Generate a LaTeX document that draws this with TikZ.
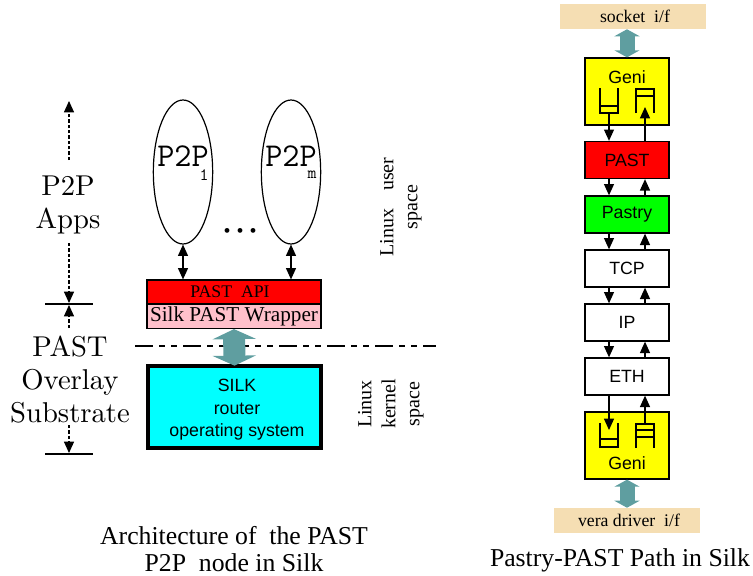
\documentclass[tikz,border=0pt]{standalone}
\usepackage{fontspec}
\usepackage{xcolor}
\usetikzlibrary{arrows.meta,shapes.geometric}
\newfontfamily\timesfam{Liberation Serif}
\newfontfamily\arialfam{Liberation Sans}
\newfontfamily\lmfam{lmroman10-regular}[Extension=.otf]
\definecolor{tealarr}{HTML}{5F9EA0}
\definecolor{wheatbox}{HTML}{F5DEB3}
\definecolor{pinkbox}{HTML}{FFC0CB}
\definecolor{silkcyan}{HTML}{00FFFF}
\definecolor{geniyellow}{HTML}{FFFF00}
\definecolor{pastred}{HTML}{FF0000}
\definecolor{pastrygreen}{HTML}{00FF00}
\begin{document}
\begin{tikzpicture}[x=0.75pt,y=-0.75pt,
  bigl/.style={align=center,inner sep=0pt,font=\lmfam\fontsize{21.5}{24.75}\selectfont},
  serl/.style={align=center,inner sep=0pt,font=\timesfam\fontsize{13.3}{16}\selectfont},
  capl/.style={inner sep=0pt,font=\timesfam\fontsize{19.3}{21}\selectfont},
  spacel/.style={align=center,inner sep=0pt,rotate=90,font=\timesfam\fontsize{15}{18}\selectfont},
  p2pl/.style={inner sep=0pt,font=\ttfamily\fontsize{25}{25}\selectfont},
  subl/.style={inner sep=0pt,font=\ttfamily\fontsize{13}{13}\selectfont},
  app/.style={draw,ellipse,line width=0.9pt,minimum width=44.5pt,minimum height=108pt,inner sep=0pt},
  layer/.style={draw,line width=1pt,minimum width=63pt,minimum height=27.75pt,inner sep=0pt,font=\arialfam\fontsize{13.3}{16}\selectfont},
  geni/.style={layer,fill=geniyellow,minimum height=50.25pt},
  iface/.style={serl,fill=wheatbox,minimum width=109.5pt,minimum height=18.75pt},
  apibox/.style={serl,draw,line width=0.9pt,minimum width=130.5pt,minimum height=18pt},
  arr/.style={{Triangle[length=8.5pt,width=7.5pt]}-{Triangle[length=8.5pt,width=7.5pt]},line width=0.9pt},
  oneway/.style={-{Triangle[length=8.5pt,width=7.5pt]},line width=0.9pt},
  dashup/.style={oneway,line width=0.85pt,dash pattern=on 2.5pt off 1.5pt},
  tick/.style={line width=0.9pt},
  queue/.style={line width=1pt},
  bigarr/.style={{Triangle[length=7.5pt,width=32.25pt]}-{Triangle[length=7.5pt,width=32.25pt]},tealarr,line width=16.5pt},
  smallarr/.style={{Triangle[length=5.25pt,width=18.75pt]}-{Triangle[length=5.25pt,width=18.75pt]},tealarr,line width=11.25pt}]
\useasboundingbox (0,0) rectangle (753,575);
\node[app] (pa) at (183,172) {};
\node[app] (pb) at (291,172) {};
\node[p2pl] (pal) at (183,156) {P2P};
\node[p2pl] (pbl) at (291,156) {P2P};
\node[subl] (pas) at (204,175) {1};
\node[subl] (pbs) at (312,175) {m};
\node[inner sep=0pt,font=\timesfam\fontsize{15}{15}\selectfont] (dots) at (240,233) {\textbullet\hspace{4.5pt}\textbullet\hspace{4.5pt}\textbullet};
\node[apibox,fill=pastred] (api) at (234,292) {PAST~~API\hspace*{6pt}};
\node[apibox,fill=pinkbox,font=\timesfam\fontsize{15.9}{18}\selectfont] (wrap) at (234,316.5) {Silk PAST Wrapper};
\node[draw,fill=silkcyan,line width=3pt,minimum width=130pt,minimum height=62pt,inner sep=0pt] (silk) at (234.5,407) {};
\node[inner sep=0pt,align=center,font=\arialfam\fontsize{13.3}{16.9}\selectfont] (silkl) at (237,410) {SILK\\router\\operating system};
\node[bigl] (apps) at (68,205) {P2P\\Apps};
\node[bigl] (past) at (70,380) {PAST\\Overlay\\Substrate};
\node[spacel] (user) at (401,207) {Linux\hspace{0.9em}user\\space};
\node[spacel] (kern) at (391,404) {Linux\\kernel\\space};
\node[capl] (capa) at (234,536) {Architecture of~~the PAST};
\node[capl] (capc) at (234,562.5) {P2P~~node in Silk};
\node[capl] (capb) at (620,560) {Pastry-PAST Path in Silk};
\coordinate (upa) at (69,101);
\coordinate (upb) at (69,160);
\coordinate (loa) at (69,243);
\coordinate (lob) at (69,303);
\coordinate (ma) at (69,328);
\coordinate (mb) at (69,305);
\coordinate (mc) at (69,425);
\coordinate (md) at (69,453);
\coordinate (ta) at (45,304);
\coordinate (tb) at (93,304);
\coordinate (tc) at (45,454);
\coordinate (td) at (93,454);
\coordinate (da) at (135,346);
\coordinate (db) at (436,346);
\draw[dashup] (upb) -- (upa);
\draw[dashup] (loa) -- (lob);
\draw[dashup] (ma) -- (mb);
\draw[dashup] (mc) -- (md);
\draw[tick] (ta) -- (tb);
\draw[tick] (tc) -- (td);
\draw[line width=0.9pt,dash pattern=on 13.5pt off 4.5pt on 4.5pt off 4.5pt on 4.5pt off 4.5pt] (da) -- (db);
\draw[arr] (pa.south) -- (pa.south |- api.north);
\draw[arr] (pb.south) -- (pb.south |- api.north);
\draw[bigarr,shorten >=-1.5pt] (wrap.south) -- (silk.north);
\node[iface] (sock) at (633,16.5) {\hspace*{3pt}socket~~i/f};
\node[iface] (vera) at (627,520.5) {\hspace*{3pt}vera driver~~i/f};
\node[geni] (gt) at (627,91.5) {};
\node[layer,fill=pastred] (pst) at (627,160) {PAST};
\node[layer,fill=pastrygreen] (pty) at (627,214.5) {Pastry};
\node[layer] (tcp) at (627,268.5) {TCP};
\node[layer] (ip) at (627,322.5) {IP};
\node[layer] (eth) at (627,376.5) {ETH};
\node[geni] (gb) at (627,445.5) {};
\node[inner sep=0pt,font=\arialfam\fontsize{13.3}{16}\selectfont] (gtl) at (627,77) {Geni};
\node[inner sep=0pt,font=\arialfam\fontsize{13.3}{16}\selectfont] (gbl) at (627,463) {Geni};
\draw[queue] (600,88) -- (600,113) -- (618,113) -- (618,88) (600,106) -- (618,106);
\draw[queue] (636,113) -- (636,89) -- (654,89) -- (654,113) (636,96) -- (654,96);
\draw[queue] (600,423) -- (600,447) -- (618,447) -- (618,423) (600,439) -- (618,439);
\draw[queue] (636,448) -- (636,424) -- (654,424) -- (654,448) (636,430) -- (654,430) (636,437) -- (654,437);
\coordinate (qta) at (609,113);
\coordinate (qtb) at (645,107);
\coordinate (qba) at (609,430);
\coordinate (qbb) at (645,424);
\draw[oneway] (qta) -- (qta |- pst.north);
\draw[oneway] (qtb |- pst.north) -- (qtb);
\draw[oneway] ([xshift=-13.5pt]pst.south) -- ([xshift=-13.5pt]pty.north);
\draw[oneway] ([xshift=13.5pt]pty.north) -- ([xshift=13.5pt]pst.south);
\draw[oneway] ([xshift=-13.5pt]pty.south) -- ([xshift=-13.5pt]tcp.north);
\draw[oneway] ([xshift=13.5pt]tcp.north) -- ([xshift=13.5pt]pty.south);
\draw[oneway] ([xshift=-13.5pt]tcp.south) -- ([xshift=-13.5pt]ip.north);
\draw[oneway] ([xshift=13.5pt]ip.north) -- ([xshift=13.5pt]tcp.south);
\draw[oneway] ([xshift=-13.5pt]ip.south) -- ([xshift=-13.5pt]eth.north);
\draw[oneway] ([xshift=13.5pt]eth.north) -- ([xshift=13.5pt]ip.south);
\draw[oneway] (qba |- eth.south) -- (qba);
\draw[oneway] (qbb) -- (qbb |- eth.south);
\draw[smallarr] (sock.south -| gt.north) -- (gt.north);
\draw[smallarr] (gb.south) -- (gb.south |- vera.north);
\end{tikzpicture}
\end{document}
